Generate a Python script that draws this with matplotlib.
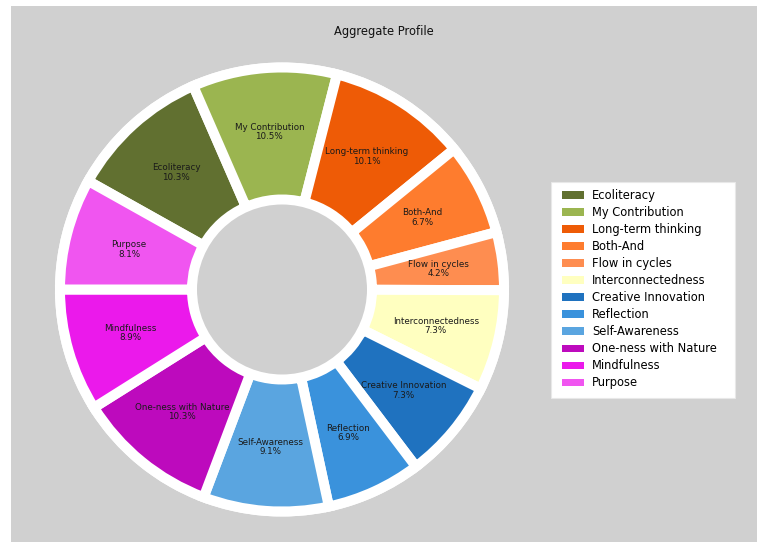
import matplotlib
matplotlib.use("Agg")
import matplotlib.pyplot as plt
from matplotlib.patches import Rectangle, Circle, Patch
import math

categories = ["Ecoliteracy", "My Contribution", "Long-term thinking", "Both-And",
              "Flow in cycles", "Interconnectedness", "Creative Innovation", "Reflection",
              "Self-Awareness", "One-ness with Nature", "Mindfulness", "Purpose"]
values = [10.3, 10.5, 10.1, 6.7, 4.2, 7.3, 7.3, 6.9, 9.1, 10.3, 8.9, 8.1]
colors = ["#617030", "#9bb550", "#ee5b06", "#fe7c2e", "#fe8d50", "#ffffc0",
          "#1f72bf", "#3a92dc", "#5aa5e0", "#bd0abd", "#eb19eb", "#f055f0"]
title = "Aggregate Profile"

W, H = 757, 542
fig = plt.figure(figsize=(W / 100, H / 100), dpi=100, facecolor="white")
ax = fig.add_axes([0, 0, 1, 1])

gray = "#d0d0d0"
ax.add_patch(Rectangle((11, 0), W - 11, H - 6, facecolor=gray, edgecolor="none", zorder=0))

cx, cy = 282, H - 289.5
ax.add_patch(Circle((cx, cy), 227, facecolor="white", edgecolor="none", zorder=1))

total = sum(values)
start = 180 - 360 * values[-1] / total
px = 72 / 100
wedges, _ = ax.pie(values, colors=colors, startangle=start, counterclock=False,
                   center=(cx, cy), radius=222, frame=True,
                   wedgeprops=dict(width=132, edgecolor="white", linewidth=10 * px))
for w in wedges:
    w.set_zorder(2)
ax.set_xlim(0, W)
ax.set_ylim(0, H)
ax.axis("off")
ax.set_aspect("auto")

ax.add_patch(Circle((cx, cy), 85, facecolor=gray, edgecolor="none", zorder=3))

for w, name, v in zip(wedges, categories, values):
    th = math.radians((w.theta1 + w.theta2) / 2)
    x = cx + 158 * math.cos(th)
    y = cy + 158 * math.sin(th)
    ax.text(x, y, f"{name}\n{v}%", ha="center", va="center", fontsize=6.3,
            color="#1a1a1a", zorder=4, linespacing=1.05)

ax.text(384, H - 32, title, ha="center", va="center", fontsize=8.3, color="#111111")

# legend frame
ax.add_patch(Rectangle((551, H - 398), 735 - 551, 398 - 182, facecolor="white",
                       edgecolor="#e8e8e8", linewidth=0.8, zorder=5))

handles = [Patch(facecolor=c, edgecolor="none") for c in colors]
leg = fig.legend(handles, categories, loc="upper left",
                 bbox_to_anchor=(555 / W, 1 - 182 / H), bbox_transform=fig.transFigure,
                 fontsize=8.3, frameon=False,
                 handlelength=1.95, handleheight=0.6, handletextpad=0.65,
                 labelspacing=0.35, borderpad=0.6, borderaxespad=0)

fig.savefig("out.png", dpi=100, facecolor="white")
